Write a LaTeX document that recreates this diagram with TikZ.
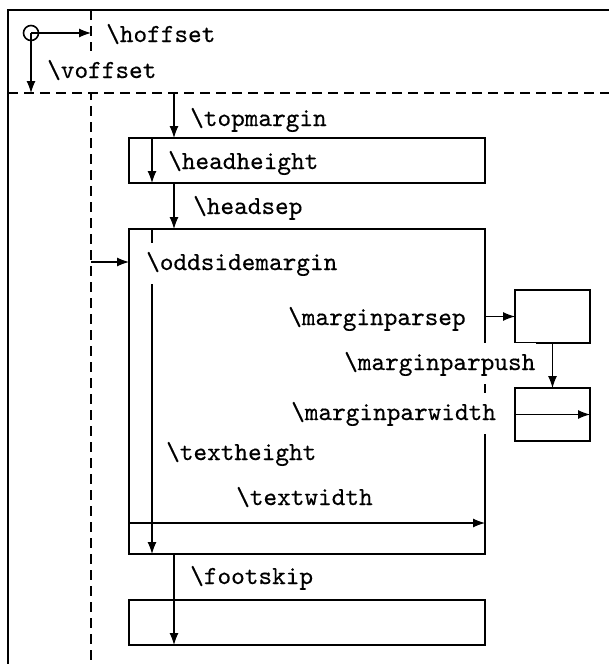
\documentclass[tikz,border=0pt]{standalone}
\usepackage{fontspec}
\newfontfamily\lblfont{lmmono10-regular.otf}[FakeBold=0.4]
\usetikzlibrary{arrows.meta}
\begin{document}
\begin{tikzpicture}[x=1pt,y=-1pt,
  thickl/.style={line width=2.4pt},
  dashl/.style={line width=2.4pt, dash pattern=on 10pt off 6pt},
  arr/.style={line width=1.1pt, -{Latex[length=12pt,width=9pt]}},
  box/.style={draw, line width=2.4pt, inner sep=0pt, outer sep=0pt, anchor=north west},
  lbl/.style={font=\fontsize{26}{30}\selectfont\lblfont, anchor=base west, inner sep=0pt},
  cover/.style={fill=white, text height=27pt, text depth=14pt, inner xsep=1pt}
]
\useasboundingbox (0,0) rectangle (608,664);
% page frame and offsets
\coordinate (fb) at (8,665);
\coordinate (ftl) at (8,10);
\coordinate (ftr) at (609,10);
\draw[thickl] (fb) -- (ftl) -- (ftr);
\coordinate (dvt) at (91,10);
\coordinate (dvb) at (91,660);
\coordinate (dhl) at (8,93);
\coordinate (dhr) at (609,93);
\draw[dashl] (dvt) -- (dvb);
\draw[dashl] (dhl) -- (dhr);
% boxes
\node[box, minimum width=356pt, minimum height=45pt] (head) at (129,138) {};
\node[box, minimum width=356pt, minimum height=325pt] (body) at (129,229) {};
\node[box, minimum width=356pt, minimum height=45pt] (foot) at (129,600) {};
\node[box, minimum width=75pt, minimum height=53pt] (mp1) at (515,290) {};
\node[box, minimum width=75pt, minimum height=53pt] (mp2) at (515,388) {};
% origin
\node[circle, draw, line width=1.6pt, minimum size=15pt, inner sep=0pt] (o) at (31,33) {};
\coordinate (hoff) at (91,33);
\coordinate (voff) at (31,93);
\draw[arr] (o.center) -- (hoff);
\draw[arr] (o.center) -- (voff);
% vertical arrows
\coordinate (tm) at (174,93);
\draw[arr] (tm) -- (tm |- head.north);
\draw[arr] ([xshift=23pt]head.north west) -- ([xshift=23pt]head.south west);
\draw[arr] ([xshift=45pt]head.south west) -- ([xshift=45pt]body.north west);
\coordinate (osm) at (91,262);
\draw[arr] (osm) -- (osm -| body.west);
\draw[arr] ([xshift=23pt]body.north west) -- ([xshift=23pt]body.south west);
\draw[arr] ([yshift=31pt]body.south west) -- ([yshift=31pt]body.south east);
\draw[arr] ([xshift=45pt]body.south west) -- ([xshift=45pt]foot.south west);
\draw[arr] (body.east |- mp1.west) -- (mp1.west);
\draw[arr] (mp1.south) -- (mp2.north);
\draw[arr] (mp2.west) -- (mp2.east);
% labels
\node[lbl] (lhoff) at (106,42) {\textbackslash hoffset};
\node[lbl, cover] (lvoff) at (46,78) {\textbackslash voffset};
\node[lbl] (ltm) at (190,126) {\textbackslash topmargin};
\node[lbl] (lhh) at (168,169) {\textbackslash headheight};
\node[lbl] (lhs) at (193,214) {\textbackslash headsep};
\node[lbl, cover] (losm) at (145,270) {\textbackslash oddsidemargin};
\node[lbl] (lmps) at (288,325) {\textbackslash marginparsep};
\node[lbl, cover] (lmpp) at (343,370) {\textbackslash marginparpush};
\node[lbl, cover] (lmpw) at (290,420) {\textbackslash marginparwidth};
\node[lbl] (lth) at (166,460) {\textbackslash textheight};
\node[lbl] (ltw) at (236,505) {\textbackslash textwidth};
\node[lbl] (lfs) at (190,584) {\textbackslash footskip};
\end{tikzpicture}
\end{document}
